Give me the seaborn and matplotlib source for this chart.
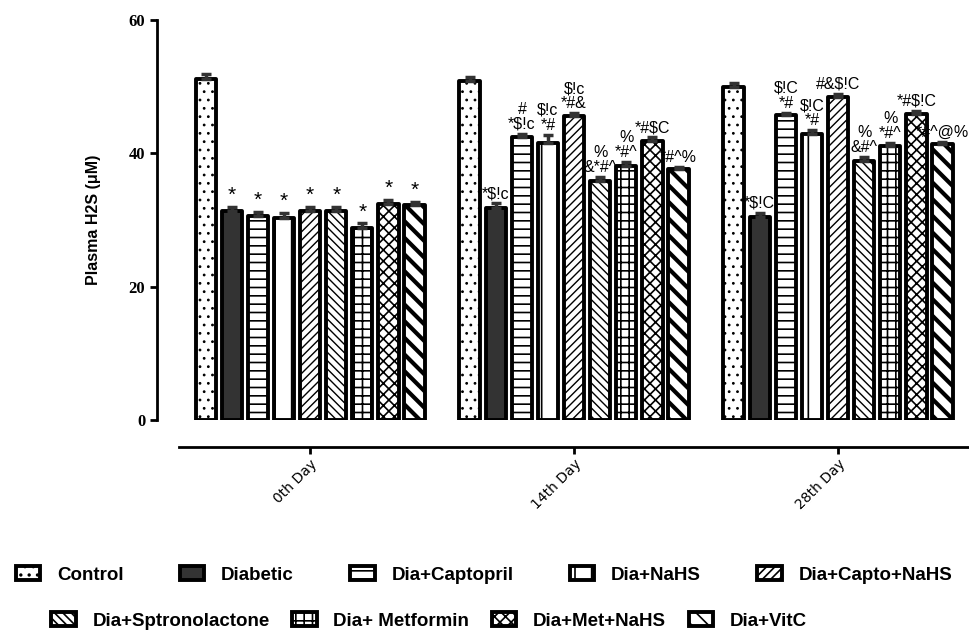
import matplotlib
matplotlib.use("Agg")
import matplotlib.pyplot as plt
import pandas as pd
import seaborn as sns
import numpy as np

days = ["0th Day", "14th Day", "28th Day"]
groups = ["Control", "Diabetic", "Dia+Captopril", "Dia+NaHS", "Dia+Capto+NaHS",
          "Dia+Sptronolactone", "Dia+ Metformin", "Dia+Met+NaHS", "Dia+VitC"]

# mean plasma H2S per group, one list per day
day0 = [51.2, 31.3, 30.6, 30.3, 31.3, 31.4, 28.8, 32.4, 32.2]
day14 = [50.9, 31.8, 42.5, 41.5, 45.6, 35.9, 38.1, 41.9, 37.6]
day28 = [49.9, 30.4, 45.7, 42.9, 48.4, 38.9, 41.1, 45.9, 41.4]

# SEM (upper error bars)
err0 = [0.7, 0.7, 0.6, 0.8, 0.7, 0.6, 0.7, 0.6, 0.5]
err14 = [0.6, 0.7, 0.4, 1.3, 0.4, 0.5, 0.6, 0.5, 0.4]
err28 = [0.6, 0.7, 0.4, 0.6, 0.5, 0.5, 0.4, 0.5, 0.3]

# significance marks above bars
sig0 = ["", "*", "*", "*", "*", "*", "*", "*", "*"]
sig14 = ["", "*$!c", "#\n*$!c", "$!c\n*#", "$!c\n*#&", "%\n&*#^", "%\n*#^", "*#$C", "*#^%"]
sig28 = ["", "*$!C", "$!C\n*#", "$!C\n*#", "#&$!C", "%\n&#^", "%\n*#^", "*#$!C", "*#^@%"]

hatches = ["..", "", "--", "|", "////", "\\\\\\\\", "++", "xxx", "\\\\"]
hatch_lw = [0.8, 1.0, 1.2, 1.2, 1.0, 1.0, 1.2, 1.2, 3.0]
fills = ["white", "#333333", "white", "white", "white", "white", "white", "white", "white"]

means = [day0, day14, day28]
errs = [err0, err14, err28]
sigs = [sig0, sig14, sig28]

rows = []
for d, vals in zip(days, means):
    for g, v in zip(groups, vals):
        rows.append({"Day": d, "Group": g, "H2S": v})
df = pd.DataFrame(rows)

sns.set_style("ticks")
plt.rcParams["hatch.linewidth"] = 1.2
plt.rcParams["text.color"] = "black"
plt.rcParams["axes.labelcolor"] = "black"
plt.rcParams["axes.edgecolor"] = "black"
plt.rcParams["xtick.color"] = "black"
plt.rcParams["ytick.color"] = "black"

fig = plt.figure(figsize=(9.69, 6.43), dpi=100)
ax = fig.add_axes([157 / 969, 1 - 420 / 643, 1 - 157 / 969, 400 / 643])

sns.barplot(data=df, x="Day", y="H2S", hue="Group", order=days, hue_order=groups,
            errorbar=None, width=0.89, gap=0.22, ax=ax, legend=False)

bars = list(ax.containers)
for i, cont in enumerate(bars):
    for j, p in enumerate(cont.patches):
        p.set_facecolor(fills[i])
        p.set_edgecolor("black")
        p.set_linewidth(2.8)
        p.set_joinstyle("round")
        p.set_hatch(hatches[i])
        try:
            p.set_hatch_linewidth(hatch_lw[i])
        except AttributeError:
            pass
        x = p.get_x() + p.get_width() / 2
        h = p.get_height()
        e = errs[j][i]
        ax.errorbar(x, h, yerr=[[0], [e]], fmt="none", ecolor="#333333",
                    elinewidth=2.5, capsize=3.5, capthick=2.5, zorder=1)
        s = sigs[j][i]
        if s:
            ax.text(x, h + e + 0.3, s, ha="center", va="bottom",
                    fontsize=15 if s == "*" else 11.5, family="Liberation Sans",
                    linespacing=1.0, parse_math=False)

ax.set_ylim(0, 60)
ax.set_xlim(-0.58, 2.496)
ax.set_yticks([0, 20, 40, 60])
ax.set_yticklabels(["0", "20", "40", "60"], family="Liberation Serif",
                   fontweight="bold", fontsize=12)
ax.set_xticks([0, 1, 2])
ax.set_xticklabels(days, family="Liberation Sans", fontsize=11)
ax.set_xlabel("")
ax.set_ylabel("Plasma H2S (μM)", family="Liberation Sans", fontweight="bold",
              fontsize=11.5, labelpad=20)
sns.despine(ax=ax)
ax.spines["left"].set_linewidth(2)
ax.spines["bottom"].set_linewidth(2)
ax.spines["bottom"].set_position(("outward", 19.5))
ax.spines["bottom"].set_bounds(-0.496, 2.496)
ax.tick_params(axis="both", width=2, length=5, direction="out")
ax.tick_params(axis="x", labelrotation=45, pad=2)
for lab in ax.get_xticklabels():
    lab.set_horizontalalignment("right")
    lab.set_rotation_mode("anchor")

handles = bars
leg_font = {"family": "Liberation Sans", "weight": "bold", "size": 13.5}
l1 = fig.legend(handles[:5], groups[:5], loc="center", ncol=5,
                bbox_to_anchor=(484 / 969, 1 - 575 / 643), frameon=False,
                prop=leg_font, handlelength=1.3, handleheight=0.7,
                columnspacing=3.0, handletextpad=0.9)
l2 = fig.legend(handles[5:], groups[5:], loc="center", ncol=4,
                bbox_to_anchor=(429 / 969, 1 - 621 / 643), frameon=False,
                prop=leg_font, handlelength=1.3, handleheight=0.7,
                columnspacing=1.2, handletextpad=0.9)

fig.savefig("out.png", dpi=100)
